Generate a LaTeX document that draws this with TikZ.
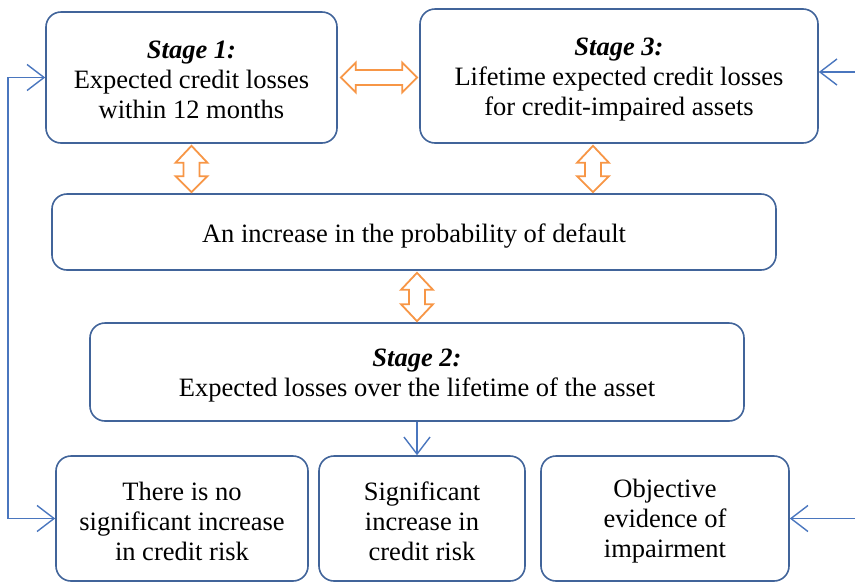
\documentclass[tikz,border=0pt]{standalone}
\usepackage{fontspec}
\setmainfont{Liberation Serif}
\usetikzlibrary{calc,arrows.meta}
\definecolor{boxblue}{HTML}{41649A}
\definecolor{lineblue}{HTML}{4A76BE}
\definecolor{arrorange}{HTML}{F79646}
\tikzset{
  box/.style={draw=boxblue, line width=1.6pt, rounded corners=15pt, fill=white,
    inner sep=0pt},
  txt/.style={inner sep=0pt, align=center, font=\fontsize{26.5}{30}\selectfont},
  barb/.tip={Straight Barb[length=17pt,width=26pt,line width=1.4pt]},
  conn/.style={draw=lineblue, line width=1.4pt, -barb},
  dblarr/.style={draw=arrorange, line width=1.8pt, fill=white, line join=miter},
}
\newcommand\stagetitle[1]{\textbf{\textit{#1}}}
\begin{document}
\begin{tikzpicture}[x=1pt,y=-1pt]
\useasboundingbox (0,0) rectangle (855,582);
% boxes
\node[box, minimum width=291pt, minimum height=131pt] (s1) at (191.5,77.5) {};
\node[txt] (s1t) at ($(s1.center)+(0,2.5)$)
  {\stagetitle{Stage 1:}\\Expected credit losses\\within 12 months};
\node[box, minimum width=398pt, minimum height=134pt] (s3) at (619,76) {};
\node[txt] (s3t) at ($(s3.center)+(0,3.5)$)
  {\stagetitle{Stage 3:}\\Lifetime expected credit losses\\for credit-impaired assets};
\node[box, minimum width=724pt, minimum height=76pt] (mid) at (414,232) {};
\node[txt] (midt) at ($(mid.center)+(0,4)$)
  {An increase in the probability of default};
\node[box, minimum width=654pt, minimum height=98pt] (s2) at (417,372) {};
\node[txt] (s2t) at ($(s2.center)+(0,4)$)
  {\stagetitle{Stage 2:}\\Expected losses over the lifetime of the asset};
\node[box, minimum width=252pt, minimum height=125pt] (bA) at (182,518.5) {};
\node[txt] (bAt) at ($(bA.center)+(0,3)$)
  {There is no\\significant increase\\in credit risk};
\node[box, minimum width=206pt, minimum height=125pt] (bB) at (422,518.5) {};
\node[txt] (bBt) at ($(bB.center)+(0,3)$)
  {Significant\\increase in\\credit risk};
\node[box, minimum width=248pt, minimum height=125pt] (bC) at (665,518.5) {};
\node[txt] (bCt) at ($(bC.center)+(0,3)$)
  {Objective\\evidence of\\impairment};
% orange double arrows
% horizontal between s1 and s3
\draw[dblarr] let \p1=($(s1.east)+(3pt,0)$), \p2=($(s3.west)+(-2pt,0)$) in
  (\x1,\y1) -- (\x1+15pt,\y1+15pt) -- (\x1+15pt,\y1+7.5pt) -- (\x2-15pt,\y1+7.5pt)
  -- (\x2-15pt,\y1+15pt) -- (\x2,\y1) -- (\x2-15pt,\y1-15pt) -- (\x2-15pt,\y1-7.5pt)
  -- (\x1+15pt,\y1-7.5pt) -- (\x1+15pt,\y1-15pt) -- cycle;
% vertical arrows
\draw[dblarr] let \p1=($(s1.south)+(0,-2pt)$), \p2=($(mid.north -| s1.south)+(0,1pt)$) in
  (\x1,\y1) -- (\x1+16pt,\y1-17pt) -- (\x1+8pt,\y1-17pt) -- (\x1+8pt,\y2+16pt)
  -- (\x1+16pt,\y2+16pt) -- (\x1,\y2) -- (\x1-16pt,\y2+16pt) -- (\x1-8pt,\y2+16pt)
  -- (\x1-8pt,\y1-17pt) -- (\x1-16pt,\y1-17pt) -- cycle;
\coordinate (v2top) at (593,143);
\draw[dblarr] let \p1=($(v2top |- s3.south)+(0,-2pt)$), \p2=($(mid.north -| v2top)+(0,1pt)$) in
  (\x1,\y1) -- (\x1+16pt,\y1-17pt) -- (\x1+8pt,\y1-17pt) -- (\x1+8pt,\y2+16pt)
  -- (\x1+16pt,\y2+16pt) -- (\x1,\y2) -- (\x1-16pt,\y2+16pt) -- (\x1-8pt,\y2+16pt)
  -- (\x1-8pt,\y1-17pt) -- (\x1-16pt,\y1-17pt) -- cycle;
\draw[dblarr] let \p1=($(mid.south -| s2.north)+(0,-2pt)$), \p2=($(s2.north)+(0,1pt)$) in
  (\x1,\y1) -- (\x1+16pt,\y1-17pt) -- (\x1+8pt,\y1-17pt) -- (\x1+8pt,\y2+17pt)
  -- (\x1+16pt,\y2+17pt) -- (\x1,\y2) -- (\x1-16pt,\y2+17pt) -- (\x1-8pt,\y2+17pt)
  -- (\x1-8pt,\y1-17pt) -- (\x1-16pt,\y1-17pt) -- cycle;
% blue connectors
\coordinate (lx) at (8,0);
\draw[conn, barb-barb]
  (s1.west) -- (s1.west -| lx) -- (bA.west -| lx) -- (bA.west);
\coordinate (rx) at (856,0);
\draw[conn] ($(s3.east -| rx)+(0,4pt)$) -- ($(s3.east)+(0,4pt)$);
\draw[conn] (bC.east -| rx) -- (bC.east);
\draw[conn] (s2.south) -- (bB.north -| s2.south);
\end{tikzpicture}
\end{document}
